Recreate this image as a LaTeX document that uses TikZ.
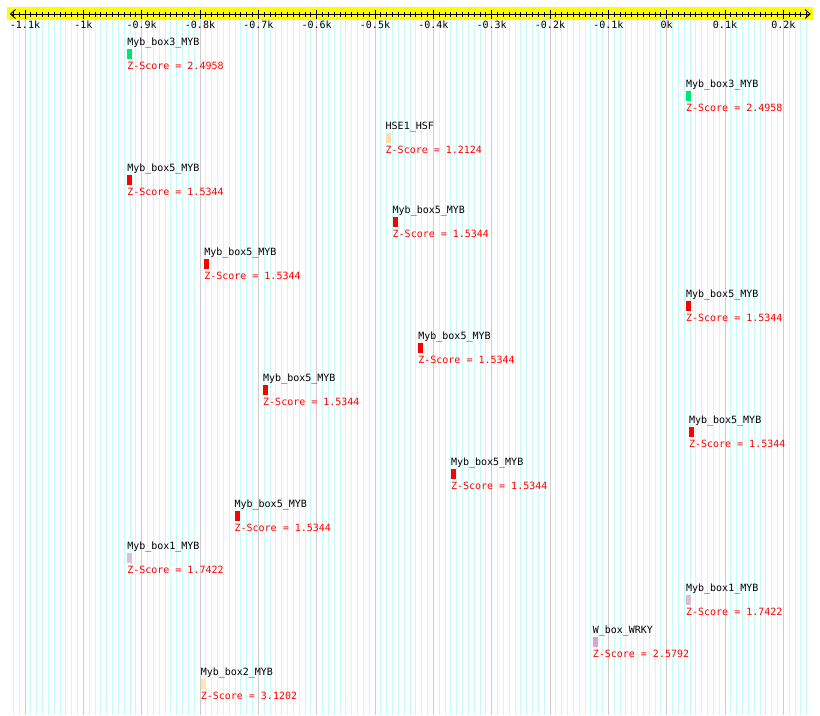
\documentclass[tikz,border=0pt]{standalone}
\usepackage{fontspec}
\setmonofont{DejaVu Sans Mono}
\usepackage{tikz}
\usetikzlibrary{arrows.meta,positioning}
\definecolor{axisyellow}{RGB}{255,255,0}
\definecolor{gridcyan}{RGB}{200,250,250}
\definecolor{gridgray}{RGB}{205,205,205}
\definecolor{mybthree}{RGB}{0,230,118}
\definecolor{mybfive}{RGB}{255,0,0}
\definecolor{mybone}{RGB}{216,191,216}
\definecolor{mybtwo}{RGB}{255,228,181}
\definecolor{hseone}{RGB}{245,222,179}
\definecolor{wbox}{RGB}{221,160,221}

\begin{document}
\begin{tikzpicture}[
  x=0.58333pt, y=-1pt,
  site/.style={rectangle, draw=none, minimum width=5pt, minimum height=10pt,
    inner sep=0pt, anchor=north west},
  sitename/.style={font=\ttfamily\fontsize{10}{12}\selectfont, inner sep=0pt,
    anchor=base west},
  score/.style={sitename, text=red},
  ticklabel/.style={font=\ttfamily\fontsize{10}{12}\selectfont, inner sep=0pt,
    anchor=base},
  axisline/.style={line width=0.9pt, {Straight Barb[length=5pt,width=9pt]}-{Straight Barb[length=5pt,width=9pt]}}
]
  \useasboundingbox (-1142.86,0) rectangle (262.86,715);

  % Grid
  \foreach \v in {-1120,-1110,...,240}
    \draw[gridcyan, line width=0.8pt] (\v,20) -- (\v,715);
  \foreach \v in {-1100,-1000,...,200}
    \draw[gridgray, line width=0.9pt] (\v,20) -- (\v,715);

  % Axis
  \fill[axisyellow] (-1130.4,7.3) rectangle (250.3,20);
  \coordinate (axisL) at (-1126,14);
  \coordinate (axisR) at (247,14);
  \draw[axisline] (axisL) -- (axisR);
  \foreach \v in {-1120,-1110,...,240}
    \draw[line width=0.8pt] (\v,11.5) -- (\v,17);
  \foreach \v in {-1100,-1000,...,200}
    \draw[line width=0.8pt] (\v,9.5) -- (\v,18.5);
  \foreach \v/\t [count=\i] in {-1100/-1.1k,-1000/-1k,-900/-0.9k,-800/-0.8k,
      -700/-0.7k,-600/-0.6k,-500/-0.5k,-400/-0.4k,-300/-0.3k,-200/-0.2k,
      -100/-0.1k,0/0k,100/0.1k,200/0.2k}
    \node[ticklabel] (tick\i) at (\v,28.3) {\t};

  % Myb_box3_MYB
  \node[site, fill=mybthree] (s1) at (-925,48.7) {};
  \node[sitename] (n1) at ([yshift=3.4pt]s1.north west) {Myb\_box3\_MYB};
  \node[score] (z1) at ([yshift=-10.6pt]s1.south west) {Z-Score = 2.4958};
  \node[site, fill=mybthree] (s2) at (33,90.7) {};
  \node[sitename] (n2) at ([yshift=3.4pt]s2.north west) {Myb\_box3\_MYB};
  \node[score] (z2) at ([yshift=-10.6pt]s2.south west) {Z-Score = 2.4958};

  % HSE1_HSF
  \node[site, fill=hseone] (s3) at (-482,132.7) {};
  \node[sitename] (n3) at ([yshift=3.4pt]s3.north west) {HSE1\_HSF};
  \node[score] (z3) at ([yshift=-10.6pt]s3.south west) {Z-Score = 1.2124};

  % Myb_box5_MYB
  \node[site, fill=mybfive] (s4) at (-925,174.7) {};
  \node[sitename] (n4) at ([yshift=3.4pt]s4.north west) {Myb\_box5\_MYB};
  \node[score] (z4) at ([yshift=-10.6pt]s4.south west) {Z-Score = 1.5344};
  \node[site, fill=mybfive] (s5) at (-470,216.7) {};
  \node[sitename] (n5) at ([yshift=3.4pt]s5.north west) {Myb\_box5\_MYB};
  \node[score] (z5) at ([yshift=-10.6pt]s5.south west) {Z-Score = 1.5344};
  \node[site, fill=mybfive] (s6) at (-793,258.7) {};
  \node[sitename] (n6) at ([yshift=3.4pt]s6.north west) {Myb\_box5\_MYB};
  \node[score] (z6) at ([yshift=-10.6pt]s6.south west) {Z-Score = 1.5344};
  \node[site, fill=mybfive] (s7) at (33,300.7) {};
  \node[sitename] (n7) at ([yshift=3.4pt]s7.north west) {Myb\_box5\_MYB};
  \node[score] (z7) at ([yshift=-10.6pt]s7.south west) {Z-Score = 1.5344};
  \node[site, fill=mybfive] (s8) at (-426,342.7) {};
  \node[sitename] (n8) at ([yshift=3.4pt]s8.north west) {Myb\_box5\_MYB};
  \node[score] (z8) at ([yshift=-10.6pt]s8.south west) {Z-Score = 1.5344};
  \node[site, fill=mybfive] (s9) at (-692,384.7) {};
  \node[sitename] (n9) at ([yshift=3.4pt]s9.north west) {Myb\_box5\_MYB};
  \node[score] (z9) at ([yshift=-10.6pt]s9.south west) {Z-Score = 1.5344};
  \node[site, fill=mybfive] (s10) at (38,426.7) {};
  \node[sitename] (n10) at ([yshift=3.4pt]s10.north west) {Myb\_box5\_MYB};
  \node[score] (z10) at ([yshift=-10.6pt]s10.south west) {Z-Score = 1.5344};
  \node[site, fill=mybfive] (s11) at (-370,468.7) {};
  \node[sitename] (n11) at ([yshift=3.4pt]s11.north west) {Myb\_box5\_MYB};
  \node[score] (z11) at ([yshift=-10.6pt]s11.south west) {Z-Score = 1.5344};
  \node[site, fill=mybfive] (s12) at (-741,510.7) {};
  \node[sitename] (n12) at ([yshift=3.4pt]s12.north west) {Myb\_box5\_MYB};
  \node[score] (z12) at ([yshift=-10.6pt]s12.south west) {Z-Score = 1.5344};

  % Myb_box1_MYB
  \node[site, fill=mybone] (s13) at (-925,552.7) {};
  \node[sitename] (n13) at ([yshift=3.4pt]s13.north west) {Myb\_box1\_MYB};
  \node[score] (z13) at ([yshift=-10.6pt]s13.south west) {Z-Score = 1.7422};
  \node[site, fill=mybone] (s14) at (33,594.7) {};
  \node[sitename] (n14) at ([yshift=3.4pt]s14.north west) {Myb\_box1\_MYB};
  \node[score] (z14) at ([yshift=-10.6pt]s14.south west) {Z-Score = 1.7422};

  % W_box_WRKY
  \node[site, fill=wbox] (s15) at (-127,636.7) {};
  \node[sitename] (n15) at ([yshift=3.4pt]s15.north west) {W\_box\_WRKY};
  \node[score] (z15) at ([yshift=-10.6pt]s15.south west) {Z-Score = 2.5792};

  % Myb_box2_MYB
  \node[site, fill=mybtwo] (s16) at (-799,678.7) {};
  \node[sitename] (n16) at ([yshift=3.4pt]s16.north west) {Myb\_box2\_MYB};
  \node[score] (z16) at ([yshift=-10.6pt]s16.south west) {Z-Score = 3.1202};
\end{tikzpicture}
\end{document}
